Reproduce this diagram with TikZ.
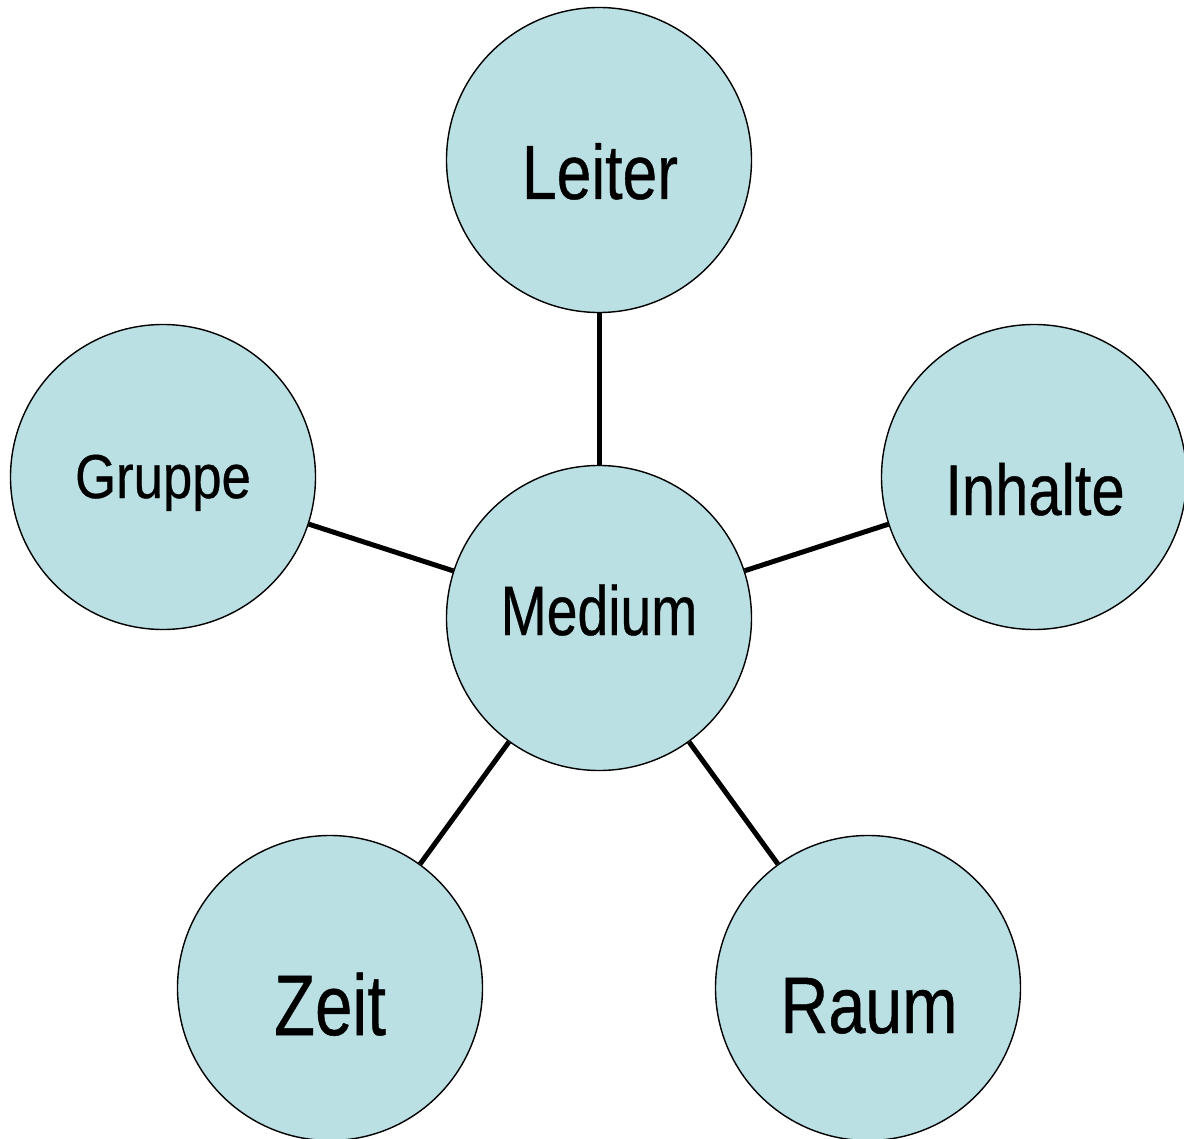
\documentclass[tikz,border=0pt]{standalone}
\usepackage{fontspec}
\setmainfont{Liberation Sans}[FakeBold=0.6]
\usepackage{graphicx}
\definecolor{bubble}{RGB}{186,224,227}
\begin{document}
\begin{tikzpicture}[x=1pt,y=-1pt,
  bub/.style={circle,draw=black,line width=1.4pt,fill=bubble,minimum size=305pt,inner sep=0pt},
  lab/.style={anchor=base,inner sep=0pt,text=black},
  conn/.style={line width=5pt,black}]
\useasboundingbox (0,0) rectangle (1184,1139);
\node[bub] (leiter) at (599,160) {};
\node[bub] (gruppe) at (163,477) {};
\node[bub] (inhalte) at (1034,477) {};
\node[bub] (medium) at (599,618) {};
\node[bub] (zeit) at (330,988) {};
\node[bub] (raum) at (868,988) {};
\draw[conn] (medium) -- (leiter);
\draw[conn] (medium) -- (gruppe);
\draw[conn] (medium) -- (inhalte);
\draw[conn] (medium) -- (zeit);
\draw[conn] (medium) -- (raum);
\node[lab] (leitert) at (600,199) {\fontsize{77}{84}\selectfont\scalebox{0.81}[1]{Leiter}};
\node[lab] (gruppet) at (163,498) {\fontsize{62}{68}\selectfont\scalebox{0.85}[1]{Gruppe}};
\node[lab] (mediumt) at (599,635) {\fontsize{70}{76}\selectfont\scalebox{0.79}[1]{Medium}};
\node[lab] (inhaltet) at (1035,515) {\fontsize{72}{78}\selectfont\scalebox{0.83}[1]{Inhalte}};
\node[lab] (zeitt) at (330,1035) {\fontsize{86}{92}\selectfont\scalebox{0.78}[1]{Zeit}};
\node[lab] (raumt) at (869,1033) {\fontsize{80}{86}\selectfont\scalebox{0.83}[1]{Raum}};
\end{tikzpicture}
\end{document}
